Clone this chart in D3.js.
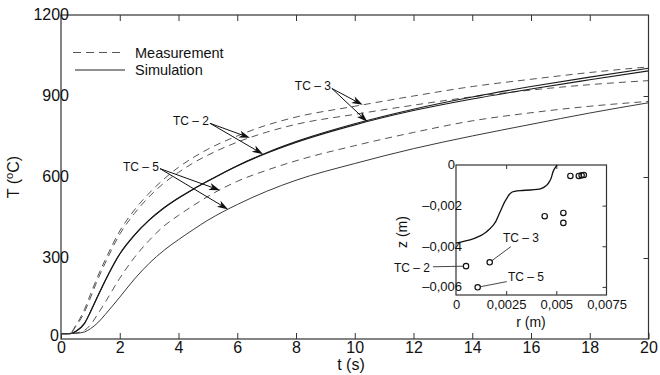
<!DOCTYPE html>
<html>
<head>
<meta charset="utf-8">
<script src="https://cdn.jsdelivr.net/npm/d3@7"></script>
<style>
  body { margin: 0; background: #fff; }
  svg { display: block; font-family: "Liberation Sans", Arial, sans-serif; }
</style>
</head>
<body>
<div id="chart"></div>
<script>
// time (s) grid shared by all curves
var tGrid = [0, 0.3, 0.5, 0.8, 1, 1.25, 1.5, 2, 2.5, 3, 3.5, 4, 4.5, 5, 6, 7, 8, 10, 12, 14, 16, 18, 20];

// measured temperatures (degC), dashed
var measA = [20, 20, 50, 110, 165, 232, 292, 400, 478, 540, 592, 636, 672, 703, 752, 792, 822, 862, 900, 935, 962, 987, 1008];
var measB = [20, 20, 46, 100, 152, 220, 280, 388, 465, 527, 577, 617, 652, 681, 729, 766, 795, 832, 866, 897, 922, 942, 957];
var measC = [20, 20, 22, 32, 52, 92, 135, 225, 302, 365, 418, 458, 494, 528, 584, 625, 660, 716, 765, 808, 838, 862, 880];

// simulated temperatures (degC), solid
var simTC2 = [20, 20, 28, 58, 100, 158, 215, 315, 385, 440, 485, 522, 555, 585, 642, 690, 731, 797, 851, 896, 935, 970, 1003];
var simTC3 = [20, 20, 28, 58, 100, 158, 215, 315, 385, 440, 485, 522, 555, 585, 641, 688, 728, 793, 846, 889, 926, 960, 993];
var simTC5 = [20, 20, 21, 26, 38, 60, 90, 155, 222, 280, 328, 368, 405, 440, 498, 547, 588, 650, 705, 752, 795, 837, 875];

var xTicks = [0, 2, 4, 6, 8, 10, 12, 14, 16, 18, 20];
var yTicks = [0, 300, 600, 900, 1200];

// arrow labels: text, where the arrows start (t, T), which curves and at what t they point
var arrowLabels = ["TC \u2013 2", "TC \u2013 5", "TC \u2013 3"];
var arrowStart = [[5.07, 799], [3.37, 631], [9.22, 928]];
var arrowTargets = [[["measB", 6.43], ["simTC2", 6.88]],
                    [["measC", 5.41], ["simTC5", 5.69]],
                    [["measA", 10.27], ["simTC3", 10.43]]];

// inset: thermocouple positions (m) and molten-zone boundary
var profileR = [0, 0.0007, 0.0012, 0.00153, 0.00187, 0.0022, 0.00253, 0.00278, 0.0032, 0.0037, 0.0042, 0.00453, 0.0047, 0.00487, 0.00503];
var profileZ = [-0.00385, -0.00369, -0.00349, -0.00328, -0.00295, -0.0023, -0.00164, -0.00134, -0.00126, -0.00123, -0.00118, -0.00098, -0.00074, -0.00025, 0];
var pointR = [0.0057, 0.00612, 0.00626, 0.00637, 0.00442, 0.00535, 0.00535, 0.00168, 0.0005, 0.00108];
var pointZ = [-0.00054, -0.00054, -0.00051, -0.00049, -0.00252, -0.00236, -0.00285, -0.00479, -0.00498, -0.00602];
var insetLabels = ["TC \u2013 3", "TC \u2013 2", "TC \u2013 5"];
var insetLabelPoint = [7, 8, 9];              // index into pointR/pointZ
var insetLabelPos = [[0.00234, -0.00359], [-0.0013, -0.00508], [0.00259, -0.00549]];
var insetLeaderEnd = [[0.00273, -0.00402], [-0.00115, -0.00501], [0.00253, -0.00574]];
var insetXTicks = [0, 0.0025, 0.005, 0.0075];
var insetXLabels = ["0", "0,0025", "0,005", "0,0075"];
var insetYTicks = [0, -0.002, -0.004, -0.006];
var insetYLabels = ["0", "\u20130,002", "\u20130,004", "\u20130,006"];

var width = 660, height = 375;
var axisColor = "#333";
var font = "\"Liberation Sans\", Arial, sans-serif";

var svg = d3.select("#chart").append("svg")
  .attr("width", width)
  .attr("height", height);

var x = d3.scaleLinear().domain([0, 20]).range([61, 648.5]);
var y = d3.scaleLinear().domain([0, 1200]).range([339, 15]);

var series = {
  measA: measA, measB: measB, measC: measC,
  simTC2: simTC2, simTC3: simTC3, simTC5: simTC5
};

function valueAt(vals, t) {
  var i = d3.bisectRight(tGrid, t) - 1;
  if (i >= tGrid.length - 1) return vals[vals.length - 1];
  var f = (t - tGrid[i]) / (tGrid[i + 1] - tGrid[i]);
  return vals[i] + f * (vals[i + 1] - vals[i]);
}

var line = d3.line()
  .x(function(d, i) { return x(tGrid[i]); })
  .y(function(d) { return y(d); })
  .curve(d3.curveMonotoneX);

// curves
var styles = {
  measA: { stroke: "#555", w: 1, dash: "7,5" },
  measB: { stroke: "#555", w: 1, dash: "7,5" },
  measC: { stroke: "#555", w: 1, dash: "7,5" },
  simTC2: { stroke: "#1a1a1a", w: 1.1, dash: null },
  simTC3: { stroke: "#1a1a1a", w: 1.1, dash: null },
  simTC5: { stroke: "#3a3a3a", w: 1, dash: null }
};
Object.keys(series).forEach(function(k) {
  svg.append("path")
    .attr("d", line(series[k]))
    .style("fill", "none")
    .style("stroke", styles[k].stroke)
    .style("stroke-width", styles[k].w)
    .style("stroke-dasharray", styles[k].dash);
});

// frame
svg.append("rect")
  .attr("x", x(0)).attr("y", y(1200))
  .attr("width", x(20) - x(0)).attr("height", y(0) - y(1200))
  .style("fill", "none").style("stroke", axisColor).style("stroke-width", 1.2);

// bottom axis
var xAxis = svg.append("g")
  .attr("transform", "translate(0," + y(0) + ")")
  .call(d3.axisBottom(x).tickValues(xTicks).tickSizeInner(-6).tickSizeOuter(0).tickPadding(3)
    .tickFormat(d3.format("d")));
xAxis.select(".domain").remove();
xAxis.selectAll("line").style("stroke", axisColor);
xAxis.selectAll("text").style("font-size", "16px").style("font-family", font).style("fill", "#111");

// top ticks
svg.append("g")
  .attr("transform", "translate(0," + y(1200) + ")")
  .call(d3.axisTop(x).tickValues(xTicks.slice(1, -1)).tickSizeInner(-6).tickSizeOuter(0).tickFormat(""))
  .call(function(g) { g.select(".domain").remove(); g.selectAll("line").style("stroke", axisColor); });

// left axis labels
var yAxis = svg.append("g")
  .attr("transform", "translate(" + x(0) + ",0)")
  .call(d3.axisLeft(y).tickValues(yTicks).tickSize(0).tickFormat(d3.format("d")));
yAxis.select(".domain").remove();
yAxis.selectAll("text")
  .attr("x", function(d) { return d === 0 ? -2 : 8; })
  .attr("dy", function(d) { return d === 0 ? "0.1em" : "0.3em"; })
  .style("font-size", "16px").style("font-family", font).style("fill", "#111");

// right ticks
svg.append("g")
  .attr("transform", "translate(" + x(20) + ",0)")
  .call(d3.axisRight(y).tickValues([300, 600, 900]).tickSizeInner(-5).tickSizeOuter(0).tickFormat(""))
  .call(function(g) { g.select(".domain").remove(); g.selectAll("line").style("stroke", axisColor); });

// axis titles
svg.append("text")
  .attr("x", 351).attr("y", 370)
  .style("text-anchor", "middle").style("font-size", "16px").style("fill", "#111")
  .text("t (s)");

var yTitle = svg.append("text")
  .attr("transform", "translate(19,177) rotate(-90)")
  .style("text-anchor", "middle").style("font-size", "16px").style("fill", "#111");
yTitle.append("tspan").text("T (");
yTitle.append("tspan").attr("dy", "-6").style("font-size", "11px").text("o");
yTitle.append("tspan").attr("dy", "6").text("C)");

// legend
var legend = svg.append("g");
legend.append("line")
  .attr("x1", 73).attr("x2", 125).attr("y1", 52.5).attr("y2", 52.5)
  .style("stroke", "#555").style("stroke-dasharray", "8,5");
legend.append("text")
  .attr("x", 135).attr("y", 58)
  .style("font-size", "14.5px").style("fill", "#111")
  .text("Measurement");
legend.append("line")
  .attr("x1", 75).attr("x2", 125).attr("y1", 70).attr("y2", 70)
  .style("stroke", "#222");
legend.append("text")
  .attr("x", 135).attr("y", 74.5)
  .style("font-size", "14.5px").style("fill", "#111")
  .text("Simulation");

// arrows
function arrowHead(x1, y1, x2, y2) {
  var a = Math.atan2(y2 - y1, x2 - x1), L = 11, w = 3.6, n = 8;
  var c = Math.cos(a), s = Math.sin(a);
  return "M" + x2 + "," + y2 +
    "L" + (x2 - L * c + w * s) + "," + (y2 - L * s - w * c) +
    "L" + (x2 - n * c) + "," + (y2 - n * s) +
    "L" + (x2 - L * c - w * s) + "," + (y2 - L * s + w * c) + "Z";
}

arrowLabels.forEach(function(label, i) {
  var sx = x(arrowStart[i][0]), sy = y(arrowStart[i][1]);
  svg.append("text")
    .attr("x", sx - 1).attr("y", sy + 2)
    .style("text-anchor", "end").style("font-size", "12px").style("fill", "#111")
    .text(label);
  arrowTargets[i].forEach(function(tg) {
    var tx = x(tg[1]), ty = y(valueAt(series[tg[0]], tg[1]));
    var a = Math.atan2(ty - sy, tx - sx);
    svg.append("line")
      .attr("x1", sx).attr("y1", sy)
      .attr("x2", tx - 8 * Math.cos(a)).attr("y2", ty - 8 * Math.sin(a))
      .style("stroke", "#111").style("stroke-width", 1);
    svg.append("path").attr("d", arrowHead(sx, sy, tx, ty)).style("fill", "#111");
  });
});

// inset
var rx = d3.scaleLinear().domain([0, 0.0075]).range([456, 606.5]);
var zy = d3.scaleLinear().domain([-0.0064, 0]).range([295, 165]);

var inset = svg.append("g");
inset.append("rect")
  .attr("x", rx(0)).attr("y", zy(0))
  .attr("width", rx(0.0075) - rx(0)).attr("height", zy(-0.0064) - zy(0))
  .style("fill", "#fff").style("stroke", axisColor).style("stroke-width", 1.2);

var ix = inset.append("g")
  .attr("transform", "translate(0," + zy(-0.0064) + ")")
  .call(d3.axisBottom(rx).tickValues(insetXTicks).tickSizeInner(-4).tickSizeOuter(0).tickPadding(5)
    .tickFormat(function(d, i) { return insetXLabels[i]; }));
ix.select(".domain").remove();
ix.selectAll("line").style("stroke", axisColor)
  .style("display", function(d) { return d === 0 || d === 0.0075 ? "none" : null; });
ix.selectAll("text").style("font-size", "13px").style("font-family", font).style("fill", "#111");

inset.append("g")
  .attr("transform", "translate(0," + zy(0) + ")")
  .call(d3.axisTop(rx).tickValues([0.0025, 0.005]).tickSizeInner(-4).tickSizeOuter(0).tickFormat(""))
  .call(function(g) { g.select(".domain").remove(); g.selectAll("line").style("stroke", axisColor); });

var iy = inset.append("g")
  .attr("transform", "translate(" + rx(0) + ",0)")
  .call(d3.axisLeft(zy).tickValues(insetYTicks).tickSize(0)
    .tickFormat(function(d, i) { return insetYLabels[i]; }));
iy.select(".domain").remove();
iy.selectAll("text")
  .attr("x", function(d) { return d === 0 ? -1 : 6; })
  .attr("dy", "0.3em")
  .style("font-size", "13px").style("font-family", font).style("fill", "#111");

inset.append("g")
  .attr("transform", "translate(" + rx(0.0075) + ",0)")
  .call(d3.axisRight(zy).tickValues([-0.002, -0.004, -0.006]).tickSizeInner(-4).tickSizeOuter(0).tickFormat(""))
  .call(function(g) { g.select(".domain").remove(); g.selectAll("line").style("stroke", axisColor); });

inset.append("text")
  .attr("x", 531).attr("y", 327)
  .style("text-anchor", "middle").style("font-size", "14px").style("fill", "#111")
  .text("r (m)");
inset.append("text")
  .attr("transform", "translate(407,232) rotate(-90)")
  .style("text-anchor", "middle").style("font-size", "14px").style("fill", "#111")
  .text("z (m)");

inset.append("path")
  .attr("d", d3.line()
    .x(function(d) { return rx(d); })
    .y(function(d, i) { return zy(profileZ[i]); })
    .curve(d3.curveMonotoneY)(profileR))
  .style("fill", "none").style("stroke", "#111").style("stroke-width", 1.3);

var r0 = 2.7;
insetLabels.forEach(function(label, i) {
  var p = insetLabelPoint[i];
  var px = rx(pointR[p]), py = zy(pointZ[p]);
  var ex = rx(insetLeaderEnd[i][0]), ey = zy(insetLeaderEnd[i][1]);
  var a = Math.atan2(ey - py, ex - px);
  inset.append("line")
    .attr("x1", px + r0 * Math.cos(a)).attr("y1", py + r0 * Math.sin(a))
    .attr("x2", ex).attr("y2", ey)
    .style("stroke", "#333").style("stroke-width", 0.9);
  inset.append("text")
    .attr("x", rx(insetLabelPos[i][0])).attr("y", zy(insetLabelPos[i][1]) + 4)
    .style("text-anchor", insetLabelPos[i][0] < 0 ? "end" : "start")
    .style("font-size", "12px").style("fill", "#111")
    .text(label);
});

inset.selectAll("circle.tc")
  .data(pointR)
  .enter().append("circle")
  .attr("class", "tc")
  .attr("cx", function(d) { return rx(d); })
  .attr("cy", function(d, i) { return zy(pointZ[i]); })
  .attr("r", r0)
  .style("fill", "none").style("stroke", "#111").style("stroke-width", 1.2);
</script>
</body>
</html>
